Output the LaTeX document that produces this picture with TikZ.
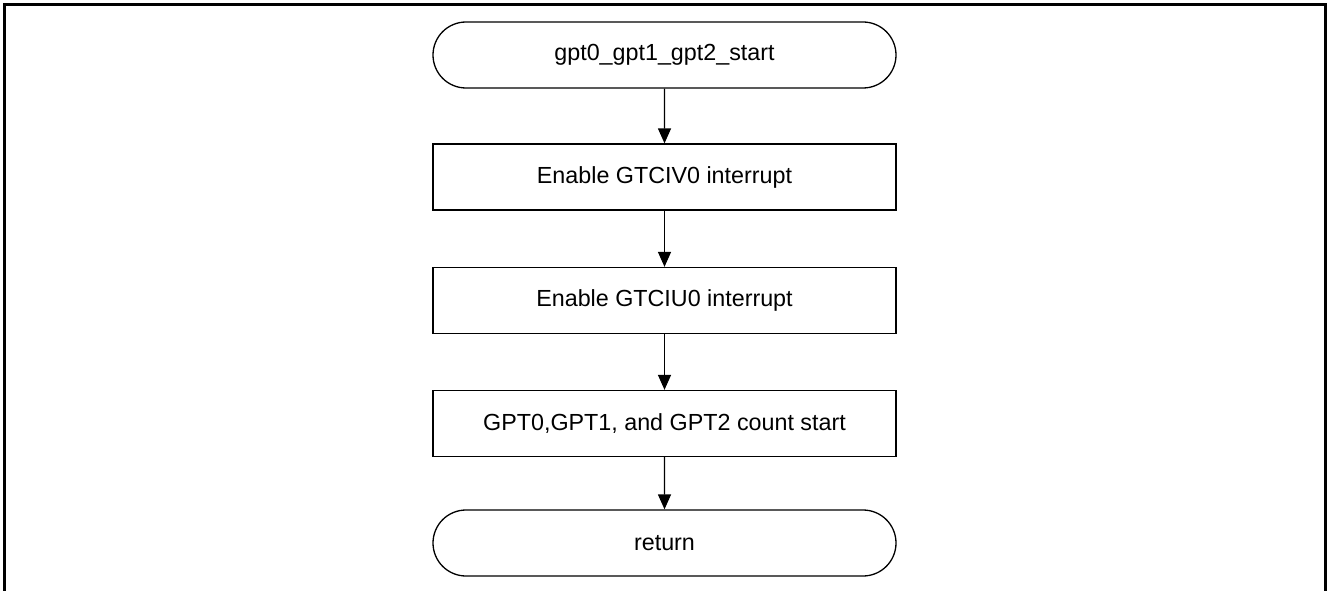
\documentclass[tikz,border=0pt]{standalone}
\usepackage{fontspec}
\setmainfont{Liberation Sans}
\usetikzlibrary{shapes.misc,arrows.meta}
\tikzset{
  base/.style={draw=black, line width=1.3pt, minimum width=463pt, minimum height=66pt, inner sep=0pt, font=\fontsize{23.3pt}{28pt}\selectfont, text=black},
  term/.style={base, rounded rectangle, rounded rectangle arc length=180},
  proc/.style={base, rectangle},
  flow/.style={line width=1.4pt, -{Triangle[length=15pt,width=13pt]}},
  frame/.style={line width=3pt}
}
\begin{document}
\begin{tikzpicture}[x=1pt,y=-1pt]
\useasboundingbox (0,0) rectangle (1327,591);
\draw[frame] (4.5,592) -- (4.5,4.5) -- (1325.5,4.5) -- (1325.5,592);
\node[term] (start) at (664.5,55) {gpt0\_gpt1\_gpt2\_start};
\node[proc] (b1) at (664.5,177) {Enable GTCIV0 interrupt};
\node[proc] (b2) at (664.5,300.5) {Enable GTCIU0 interrupt};
\node[proc] (b3) at (664.5,423.5) {GPT0,GPT1, and GPT2 count start};
\node[term] (ret) at (664.5,543) {return};
\draw[flow] (start) -- (b1);
\draw[flow] (b1) -- (b2);
\draw[flow] (b2) -- (b3);
\draw[flow] (b3) -- (ret);
\end{tikzpicture}
\end{document}
